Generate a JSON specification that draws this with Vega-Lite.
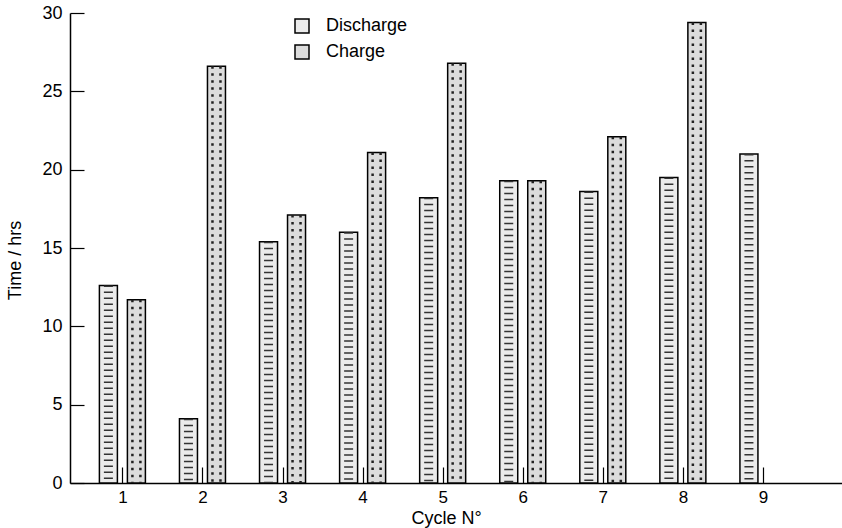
{
  "$schema": "https://vega.github.io/schema/vega-lite/v6.json",
  "width": 772,
  "height": 470,
  "autosize": {"type": "none"},
  "padding": {"left": 70, "top": 13, "right": 0, "bottom": 45},
  "background": "white",
  "config": {
    "view": {"stroke": null},
    "font": "Liberation Sans",
    "axis": {
      "labelColor": "black",
      "titleColor": "black",
      "domainColor": "black",
      "tickColor": "black",
      "domainWidth": 1.5,
      "tickWidth": 1.2,
      "grid": false,
      "labelFontSize": 18,
      "titleFontSize": 18,
      "titleFontWeight": "normal"
    }
  },
  "data": {
    "values": [
      {"cycle": 1, "type": "Discharge", "hours": 12.6},
      {"cycle": 1, "type": "Charge", "hours": 11.7},
      {"cycle": 2, "type": "Discharge", "hours": 4.1},
      {"cycle": 2, "type": "Charge", "hours": 26.6},
      {"cycle": 3, "type": "Discharge", "hours": 15.4},
      {"cycle": 3, "type": "Charge", "hours": 17.1},
      {"cycle": 4, "type": "Discharge", "hours": 16.0},
      {"cycle": 4, "type": "Charge", "hours": 21.1},
      {"cycle": 5, "type": "Discharge", "hours": 18.2},
      {"cycle": 5, "type": "Charge", "hours": 26.8},
      {"cycle": 6, "type": "Discharge", "hours": 19.3},
      {"cycle": 6, "type": "Charge", "hours": 19.3},
      {"cycle": 7, "type": "Discharge", "hours": 18.6},
      {"cycle": 7, "type": "Charge", "hours": 22.1},
      {"cycle": 8, "type": "Discharge", "hours": 19.5},
      {"cycle": 8, "type": "Charge", "hours": 29.4},
      {"cycle": 9, "type": "Discharge", "hours": 21.0}
    ]
  },
  "encoding": {
    "x": {
      "field": "cycle",
      "type": "quantitative",
      "scale": {"domain": [0.408, 9.925], "nice": false, "zero": false},
      "axis": {
        "values": [1, 2, 3, 4, 5, 6, 7, 8, 9],
        "format": "d",
        "title": "Cycle N°",
        "tickSize": -16,
        "labelPadding": 22,
        "labelFontSize": 17,
        "titleX": 376,
        "titleY": 26,
        "titleBaseline": "top"
      }
    },
    "y": {
      "field": "hours",
      "type": "quantitative",
      "scale": {"domain": [0, 30], "nice": false},
      "axis": {
        "values": [0, 5, 10, 15, 20, 25, 30],
        "title": "Time / hrs",
        "tickSize": -14,
        "labelPadding": 22,
        "titleX": -46,
        "titleY": 247
      }
    }
  },
  "layer": [
    {
      "transform": [{"filter": "datum.type === 'Discharge'"}],
      "mark": {"type": "bar", "width": 18, "xOffset": -14, "stroke": "black", "strokeWidth": 1.5},
      "encoding": {
        "fill": {
          "field": "type",
          "type": "nominal",
          "scale": {"domain": ["Discharge", "Charge"], "range": ["#ebebeb", "#dcdcdc"]},
          "legend": {
            "title": null,
            "orient": "none",
            "legendX": 223,
            "legendY": 4,
            "padding": 0,
            "symbolType": "square",
            "symbolSize": 196,
            "symbolStrokeColor": "black",
            "symbolStrokeWidth": 1.5,
            "labelFontSize": 18,
            "labelColor": "black",
            "labelOffset": 15,
            "rowPadding": 6
          }
        }
      }
    },
    {
      "transform": [{"filter": "datum.type === 'Charge'"}],
      "mark": {"type": "bar", "width": 18, "xOffset": 14, "stroke": "black", "strokeWidth": 1.5},
      "encoding": {
        "fill": {"field": "type", "type": "nominal"}
      }
    },
    {
      "transform": [{"filter": "datum.type === 'Discharge'"}],
      "mark": {"type": "rule", "xOffset": -14, "strokeWidth": 9, "strokeDash": [1.5, 4.5], "color": "#333333"},
      "encoding": {"y2": {"datum": 0}}
    },
    {
      "transform": [{"filter": "datum.type === 'Charge'"}],
      "mark": {"type": "rule", "xOffset": 10, "strokeWidth": 2.5, "strokeDash": [2.5, 4.5], "color": "#222222"},
      "encoding": {"y2": {"datum": 0}}
    },
    {
      "transform": [{"filter": "datum.type === 'Charge'"}],
      "mark": {"type": "rule", "xOffset": 18, "strokeWidth": 2.5, "strokeDash": [2.5, 4.5], "color": "#222222"},
      "encoding": {"y2": {"datum": 0}}
    }
  ]
}
